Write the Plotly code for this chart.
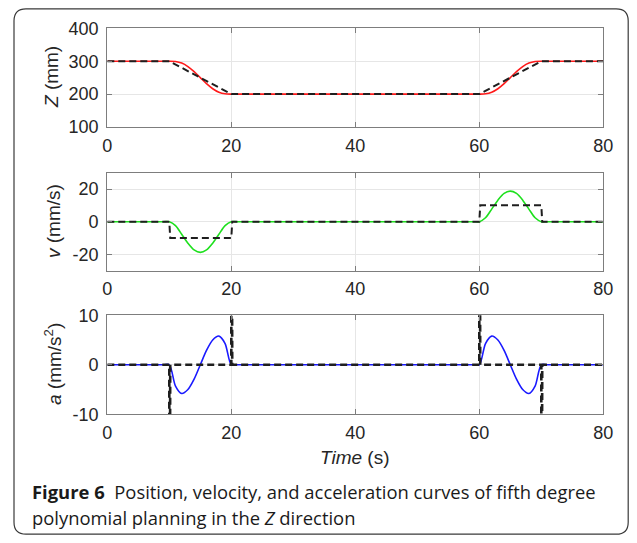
import plotly.graph_objects as go

# ---------------- data ----------------
# planned curves (fifth-degree polynomial), sampled each second in the transitions
t_curve = [0, 9, 10, 11, 12, 13, 14, 15, 16, 17, 18, 19, 20, 21,
           59, 60, 61, 62, 63, 64, 65, 66, 67, 68, 69, 70, 71, 80]
z_curve = [300, 300, 300, 299.1, 294.2, 283.7, 268.3, 250, 231.7, 216.3, 205.8, 200.9, 200, 200,
           200, 200, 200.9, 205.8, 216.3, 231.7, 250, 268.3, 283.7, 294.2, 299.1, 300, 300, 300]
v_curve = [0, 0, 0, -2.4, -7.7, -13.2, -17.3, -18.75, -17.3, -13.2, -7.7, -2.4, 0, 0,
           0, 0, 2.4, 7.7, 13.2, 17.3, 18.75, 17.3, 13.2, 7.7, 2.4, 0, 0, 0]
a_curve = [0, 0, 0, -4.3, -5.8, -5.0, -2.9, 0, 2.9, 5.0, 5.8, 4.3, 0, 0,
           0, 0, 4.3, 5.8, 5.0, 2.9, 0, -2.9, -5.0, -5.8, -4.3, 0, 0, 0]

# reference (trapezoidal / linear) curves, dashed black
t_zref = [0, 10, 20, 60, 70, 80]
z_ref = [300, 300, 200, 200, 300, 300]
t_vref = [0, 10, 10.15, 20, 20.15, 60, 60.15, 70, 70.15, 80]
v_ref = [0, 0, -10, -10, 0, 0, 10, 10, 0, 0]
t_aref = [0, 10, 10, 10.15, 20, 20, 20.15, 60, 60, 60.15, 70, 70, 70.15, 80]
a_ref = [0, 0, -80, 0, 0, 80, 0, 0, 80, 0, 0, -80, 0, 0]

x_ticks = [0, 20, 40, 60, 80]
x_labels = ["0", "20", "40", "60", "80"]
z_ticks = [100, 200, 300, 400]
z_labels = ["100", "200", "300", "400"]
v_ticks = [-20, 0, 20]
v_labels = ["-20", "0", "20"]
a_ticks = [-10, 0, 10]
a_labels = ["-10", "0", "10"]

# ---------------- figure ----------------
# the page body has an 8px margin; keep the figure inside the window (no scrollbars)
OFF = 8
W, H = 637 - 2 * OFF, 543 - 2 * OFF
fig = go.Figure()

def px_x(x):
    return (x - OFF) / W

def px_y(y):
    return 1 - (y - OFF) / H

dash_style = dict(color="#1e1e1e", width=2, dash="7px,4px")

fig.add_trace(go.Scatter(x=t_curve, y=z_curve, mode="lines", line=dict(color="#ff1a1a", width=1.6, shape="spline", smoothing=0.8),
                         xaxis="x", yaxis="y", hoverinfo="skip", showlegend=False))
fig.add_trace(go.Scatter(x=t_zref, y=z_ref, mode="lines", line=dash_style,
                         xaxis="x", yaxis="y", hoverinfo="skip", showlegend=False))
fig.add_trace(go.Scatter(x=t_curve, y=v_curve, mode="lines", line=dict(color="#1ee01e", width=1.6, shape="spline", smoothing=0.8),
                         xaxis="x2", yaxis="y2", hoverinfo="skip", showlegend=False))
fig.add_trace(go.Scatter(x=t_vref, y=v_ref, mode="lines", line=dash_style,
                         xaxis="x2", yaxis="y2", hoverinfo="skip", showlegend=False))
fig.add_trace(go.Scatter(x=t_curve, y=a_curve, mode="lines", line=dict(color="#1a1aff", width=1.6, shape="spline", smoothing=0.8),
                         xaxis="x3", yaxis="y3", hoverinfo="skip", showlegend=False))
fig.add_trace(go.Scatter(x=t_aref, y=a_ref, mode="lines", line=dict(color="#1e1e1e", width=2.6, dash="7px,4px"),
                         xaxis="x3", yaxis="y3", hoverinfo="skip", showlegend=False))

x_dom = [px_x(107.3), px_x(603.3)]
doms = [(28.3, 127.0), (172.7, 270.7), (315.3, 414.3)]
ranges = [[100, 400], [-30, 30], [-10, 10]]
yticks = [(z_ticks, z_labels), (v_ticks, v_labels), (a_ticks, a_labels)]

tick_font = dict(family="Liberation Sans, Arial, sans-serif", size=18, color="#262626")
axis_common = dict(showline=True, linecolor="#7d7d7d", linewidth=1.3, mirror="ticks",
                   ticks="inside", ticklen=5, tickcolor="#7d7d7d", tickwidth=1.2,
                   showgrid=True, gridcolor="#e6e6e6", gridwidth=1, zeroline=False,
                   tickfont=tick_font, automargin=False)

layout = dict(width=W, height=H, margin=dict(l=0, r=0, t=0, b=0, autoexpand=False),
              paper_bgcolor="white", plot_bgcolor="white", showlegend=False)
for i in range(3):
    sx = "" if i == 0 else str(i + 1)
    top, bot = doms[i]
    layout["xaxis" + sx] = dict(domain=x_dom, range=[0, 80], tickvals=x_ticks, ticktext=x_labels,
                                anchor="y" + sx, ticklabelstandoff=2, **axis_common)
    layout["yaxis" + sx] = dict(domain=[px_y(bot), px_y(top)], range=ranges[i],
                                tickvals=yticks[i][0], ticktext=yticks[i][1],
                                anchor="x" + sx, ticklabelstandoff=4, **axis_common)
fig.update_layout(**layout)

title_font = dict(family="Liberation Sans, Arial, sans-serif", size=19, color="#262626")
ann = []
ann.append(dict(x=px_x(52), y=px_y(77), text="<i>Z</i> (mm)", textangle=-90))
ann.append(dict(x=px_x(53), y=px_y(221), text="<i>v</i> (mm/s)", textangle=-90))
ann.append(dict(x=px_x(53), y=px_y(364), text="<i>a</i> (mm/s<sup>2</sup>)", textangle=-90))
ann.append(dict(x=px_x(355), y=px_y(457), text="<i>Time</i> (s)", textangle=0))
for a in ann:
    a.update(xref="paper", yref="paper", showarrow=False, xanchor="center", yanchor="middle", font=title_font)

cap_font = dict(family="Open Sans, Noto Sans, sans-serif", size=18.4, color="#1a1a1a")
ann.append(dict(x=px_x(30), y=px_y(491.5), xref="paper", yref="paper", showarrow=False,
                xanchor="left", yanchor="middle", font=cap_font,
                text="<b>Figure 6</b>  Position, velocity, and acceleration curves of fifth degree"))
ann.append(dict(x=px_x(30), y=px_y(517), xref="paper", yref="paper", showarrow=False,
                xanchor="left", yanchor="middle", font=cap_font,
                text="polynomial planning in the <i>Z</i> direction"))
fig.update_layout(annotations=ann)

# rounded frame around the figure (kept inside the drawable area)
x0, x1, y0, y1, r = 14, 628.2, 8.8, 534.2, 12
pts = [
    ("M", (x0 + r, y0)), ("L", (x1 - r, y0)), ("Q", (x1, y0), (x1, y0 + r)),
    ("L", (x1, y1 - r)), ("Q", (x1, y1), (x1 - r, y1)), ("L", (x0 + r, y1)),
    ("Q", (x0, y1), (x0, y1 - r)), ("L", (x0, y0 + r)), ("Q", (x0, y0), (x0 + r, y0)),
]
path = ""
for p in pts:
    cmd = p[0]
    coords = " ".join(f"{px_x(x):.5f},{px_y(y):.5f}" for x, y in p[1:])
    path += f"{cmd} {coords} "
path += "Z"
fig.add_shape(type="path", path=path, xref="paper", yref="paper",
              line=dict(color="#3a3a3a", width=1.2), fillcolor="rgba(0,0,0,0)", layer="below")

fig.write_html("out.html")
